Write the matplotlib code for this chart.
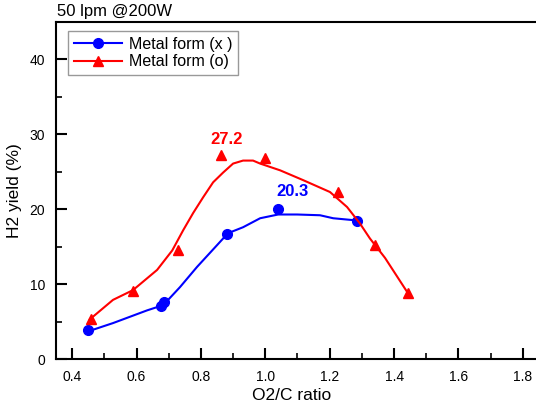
import matplotlib
matplotlib.use("Agg")
import matplotlib.pyplot as plt
from matplotlib.ticker import MultipleLocator

plt.rcParams['font.family'] = ['Liberation Sans', 'DejaVu Sans']

# measured points
x_metal_x = [0.450, 0.676, 0.686, 0.881, 1.040, 1.285]
y_metal_x = [3.9, 7.1, 7.6, 16.7, 20.1, 18.4]
x_metal_o = [0.459, 0.589, 0.730, 0.862, 1.000, 1.225, 1.342, 1.443]
y_metal_o = [5.3, 9.1, 14.5, 27.3, 26.8, 22.3, 15.2, 8.8]

# fitted (smoothed) curves
fit_x_blue = [0.450, 0.527, 0.633, 0.683, 0.735, 0.788, 0.850, 0.884, 0.931,
              0.984, 1.040, 1.099, 1.170, 1.211, 1.285]
fit_y_blue = [3.7, 4.8, 6.5, 7.2, 9.6, 12.3, 15.2, 16.8, 17.6,
              18.8, 19.3, 19.3, 19.2, 18.8, 18.5]
fit_x_red = [0.455, 0.527, 0.589, 0.664, 0.711, 0.745, 0.776, 0.807, 0.838,
             0.869, 0.900, 0.931, 0.962, 0.984, 1.046, 1.117, 1.201, 1.254,
             1.294, 1.325, 1.372, 1.443]
fit_y_red = [5.3, 7.9, 9.2, 11.9, 14.5, 17.2, 19.5, 21.6, 23.6,
             24.9, 26.1, 26.5, 26.5, 26.1, 25.2, 23.9, 22.3, 20.3,
             18.1, 16.1, 13.5, 8.8]

labels = ["Metal form (x )", "Metal form (o)"]
peak_labels = ["20.3", "27.2"]
peak_pos = [(1.086, 21.4), (0.881, 28.3)]
xticks = [0.4, 0.6, 0.8, 1.0, 1.2, 1.4, 1.6, 1.8]
yticks = [0, 10, 20, 30, 40]

fig = plt.figure(figsize=(5.36, 4.08), dpi=100)
ax = fig.add_axes([0.1045, 0.120, 0.901, 0.826])

blue = '#0000ff'
red = '#ff0000'
ax.plot(fit_x_blue, fit_y_blue, color=blue, lw=1.5)
ax.plot(x_metal_x, y_metal_x, 'o', color=blue, ms=7)
ax.plot(fit_x_red, fit_y_red, color=red, lw=1.5)
ax.plot(x_metal_o, y_metal_o, '^', color=red, ms=7)

# legend proxies
h1, = ax.plot([], [], '-o', color=blue, lw=1.5, ms=7)
h2, = ax.plot([], [], '-^', color=red, lw=1.5, ms=7)
leg = ax.legend([h1, h2], labels, loc='upper left', bbox_to_anchor=(0.025, 0.972),
                borderaxespad=0, frameon=True, fancybox=False, fontsize=11.5,
                handlelength=3.0, handletextpad=0.45, borderpad=0.35, labelspacing=0.15)
leg.get_frame().set_edgecolor('#808080')
leg.get_frame().set_linewidth(1.0)

ax.text(peak_pos[0][0], peak_pos[0][1], peak_labels[0], color=blue, fontsize=12,
        fontweight='bold', ha='center', va='bottom')
ax.text(peak_pos[1][0], peak_pos[1][1], peak_labels[1], color=red, fontsize=12,
        fontweight='bold', ha='center', va='bottom')

ax.set_xlim(0.35, 1.85)
ax.set_ylim(0, 45)
ax.set_xticks(xticks)
ax.set_yticks(yticks)
ax.set_xticklabels([f"{v:.1f}" for v in xticks])
ax.xaxis.set_minor_locator(MultipleLocator(0.1))
ax.yaxis.set_minor_locator(MultipleLocator(5))
ax.tick_params(which='major', direction='in', length=8, width=1.5, labelsize=10,
               pad=8, top=False, right=False)
ax.tick_params(which='minor', direction='in', length=4, width=1.2, top=False, right=False)
for s in ax.spines.values():
    s.set_linewidth(1.5)

ax.set_xlabel("O2/C ratio", fontsize=12.5)
ax.set_ylabel("H2 yield (%)", fontsize=12.5)
ax.xaxis.set_label_coords(0.488, -0.085)
ax.yaxis.set_label_coords(-0.070, 0.50)
fig.text(0.107, 0.99, "50 lpm @200W", fontsize=12, ha='left', va='top')

fig.savefig("out.png", dpi=100)
